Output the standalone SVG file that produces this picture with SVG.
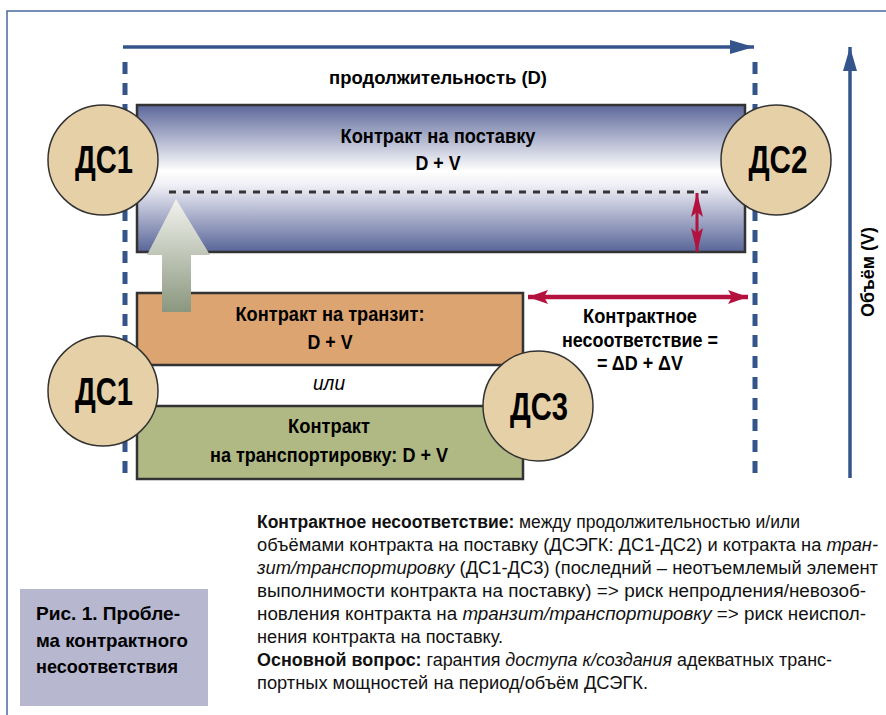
<svg xmlns="http://www.w3.org/2000/svg" width="886" height="715" viewBox="0 0 886 715">
<defs>
<linearGradient id="gBlue" x1="0" y1="0" x2="0" y2="1">
<stop offset="0" stop-color="#5c679a"/>
<stop offset="0.45" stop-color="#ffffff"/>
<stop offset="0.55" stop-color="#eeeef5"/>
<stop offset="1" stop-color="#586598"/>
</linearGradient>
<linearGradient id="gGrey" x1="0" y1="0" x2="0" y2="1">
<stop offset="0" stop-color="#f3f3ee"/>
<stop offset="1" stop-color="#8a977f"/>
</linearGradient>
<marker id="aBlue" viewBox="0 0 24 14" refX="24" refY="7" markerWidth="24" markerHeight="14" markerUnits="userSpaceOnUse" orient="auto">
<path d="M0,0 L24,7 L0,14 Z" fill="#34558c"/>
</marker>
<marker id="aRed" viewBox="0 0 20 14" refX="20" refY="7" markerWidth="20" markerHeight="14" markerUnits="userSpaceOnUse" orient="auto-start-reverse">
<path d="M0,0 L20,7 L0,14 L4,7 Z" fill="#b3123f"/>
</marker>
<marker id="aRedV" viewBox="0 0 24 12" refX="24" refY="6" markerWidth="24" markerHeight="12" markerUnits="userSpaceOnUse" orient="auto-start-reverse">
<path d="M0,0 L24,6 L0,12 L5,6 Z" fill="#b3123f"/>
</marker>
</defs>
<style>
.frame{stroke:#4a6aa0;stroke-width:1.5;fill:none}
.vdash{stroke:#34558c;stroke-width:5;stroke-dasharray:12 9;fill:none}
.box{stroke:#333;stroke-width:2.5}
.circ{fill:#e6d0a8;stroke:#333;stroke-width:1.5}
.ds{font-family:"Liberation Sans",Arial,sans-serif;font-weight:bold;font-size:38px;fill:#000;text-anchor:middle}
.lbl{font-family:"Liberation Sans",Arial,sans-serif;font-weight:bold;font-size:20px;fill:#000;text-anchor:middle}
.body{font-family:"Liberation Sans",Arial,sans-serif;font-size:17.5px;fill:#111}
.b{font-weight:bold}
.i{font-style:italic}
.cap{font-family:"Liberation Sans",Arial,sans-serif;font-weight:bold;font-size:18.5px;fill:#000}
</style>
<rect x="0" y="0" width="886" height="715" fill="#ffffff"/>
<path class="frame" d="M7,715 L7,11 L886,11"/>

<g id="guides">
<line class="vdash" x1="125" y1="62" x2="125" y2="478"/>
<line class="vdash" x1="755" y1="62" x2="755" y2="478"/>
</g>

<g id="box-supply">
<rect class="box" x="137" y="105" width="608" height="147" fill="url(#gBlue)"/>
<line x1="169" y1="192" x2="714" y2="192" stroke="#333" stroke-width="3" stroke-dasharray="7 7"/>
<text class="lbl" x="438" y="143" textLength="195" lengthAdjust="spacingAndGlyphs">Контракт на поставку</text>
<text class="lbl" x="438" y="170" textLength="45" lengthAdjust="spacingAndGlyphs">D + V</text>
</g>

<g id="box-transit">
<rect class="box" x="137" y="293" width="386" height="72" fill="#dca471"/>
<text class="lbl" x="330" y="321" textLength="189" lengthAdjust="spacingAndGlyphs">Контракт на транзит:</text>
<text class="lbl" x="330" y="349" textLength="45" lengthAdjust="spacingAndGlyphs">D + V</text>
</g>

<text x="329" y="390" font-family="Liberation Sans, Arial, sans-serif" font-style="italic" font-size="20" text-anchor="middle" textLength="32" lengthAdjust="spacingAndGlyphs">или</text>

<g id="box-transport">
<rect class="box" x="137" y="406" width="386" height="73" fill="#b0b984"/>
<text class="lbl" x="329" y="433" textLength="82" lengthAdjust="spacingAndGlyphs">Контракт</text>
<text class="lbl" x="329" y="462" textLength="238" lengthAdjust="spacingAndGlyphs">на транспортировку: D + V</text>
</g>

<g id="connectors">
<line x1="123" y1="47" x2="754" y2="47" stroke="#34558c" stroke-width="3.5" marker-end="url(#aBlue)"/>
<line x1="850" y1="478" x2="850" y2="47" stroke="#34558c" stroke-width="3.5" marker-end="url(#aBlue)"/>
<line x1="697" y1="193" x2="697" y2="252" stroke="#b3123f" stroke-width="3" marker-start="url(#aRedV)" marker-end="url(#aRedV)"/>
<line x1="528" y1="297" x2="748" y2="297" stroke="#b3123f" stroke-width="4.5" marker-start="url(#aRed)" marker-end="url(#aRed)"/>
<polygon points="176,199 210,255 191,255 191,312 162,312 162,255 147,255" fill="url(#gGrey)"/>
</g>

<text x="438" y="84" font-family="Liberation Sans, Arial, sans-serif" font-weight="bold" font-size="19" text-anchor="middle" textLength="218" lengthAdjust="spacingAndGlyphs">продолжительность (D)</text>
<text transform="translate(874,272) rotate(-90)" font-family="Liberation Sans, Arial, sans-serif" font-weight="bold" font-size="19" text-anchor="middle" textLength="90" lengthAdjust="spacingAndGlyphs">Объём (V)</text>

<g id="mismatch-label">
<text class="lbl" x="640" y="323" textLength="114" lengthAdjust="spacingAndGlyphs">Контрактное</text>
<text class="lbl" x="640" y="347" textLength="156" lengthAdjust="spacingAndGlyphs">несоответствие =</text>
<text class="lbl" x="640" y="370" textLength="86" lengthAdjust="spacingAndGlyphs">= ΔD + ΔV</text>
</g>

<g id="ds1-top">
<circle class="circ" cx="103" cy="160" r="55"/>
<text class="ds" x="104" y="173" textLength="58" lengthAdjust="spacingAndGlyphs">ДС1</text>
</g>
<g id="ds2">
<circle class="circ" cx="776" cy="160" r="55"/>
<text class="ds" x="778" y="173" textLength="59" lengthAdjust="spacingAndGlyphs">ДС2</text>
</g>
<g id="ds1-bottom">
<circle class="circ" cx="103" cy="391" r="55"/>
<text class="ds" x="104" y="405" textLength="58" lengthAdjust="spacingAndGlyphs">ДС1</text>
</g>
<g id="ds3">
<circle class="circ" cx="538" cy="406" r="55"/>
<text class="ds" x="539" y="420" textLength="58" lengthAdjust="spacingAndGlyphs">ДС3</text>
</g>

<g id="caption">
<rect x="20" y="589" width="188" height="117" fill="#b7b7d0"/>
<text class="cap" x="36" y="620" textLength="144" lengthAdjust="spacingAndGlyphs">Рис. 1. Пробле-</text>
<text class="cap" x="36" y="647" textLength="152" lengthAdjust="spacingAndGlyphs">ма контрактного</text>
<text class="cap" x="36" y="673" textLength="142" lengthAdjust="spacingAndGlyphs">несоответствия</text>
</g>

<g id="description">
<text class="body" x="257" y="528" textLength="543" lengthAdjust="spacingAndGlyphs"><tspan class="b">Контрактное несоответствие:</tspan> между продолжительностью и/или</text>
<text class="body" x="257" y="551" textLength="621" lengthAdjust="spacingAndGlyphs">объёмами контракта на поставку (ДСЭГК: ДС1-ДС2) и котракта на <tspan class="i">тран-</tspan></text>
<text class="body" x="257" y="574" textLength="621" lengthAdjust="spacingAndGlyphs"><tspan class="i">зит/транспортировку</tspan> (ДС1-ДС3) (последний – неотъемлемый элемент</text>
<text class="body" x="257" y="597" textLength="609" lengthAdjust="spacingAndGlyphs">выполнимости контракта на поставку) =&gt; риск непродления/невозоб-</text>
<text class="body" x="257" y="620" textLength="609" lengthAdjust="spacingAndGlyphs">новления контракта на <tspan class="i">транзит/транспортировку</tspan> =&gt; риск неиспол-</text>
<text class="body" x="257" y="643" textLength="246" lengthAdjust="spacingAndGlyphs">нения контракта на поставку.</text>
<text class="body" x="257" y="666" textLength="575" lengthAdjust="spacingAndGlyphs"><tspan class="b">Основной вопрос:</tspan> гарантия <tspan class="i">доступа к/создания</tspan> адекватных транс-</text>
<text class="body" x="257" y="689" textLength="391" lengthAdjust="spacingAndGlyphs">портных мощностей на период/объём ДСЭГК.</text>
</g>
</svg>
